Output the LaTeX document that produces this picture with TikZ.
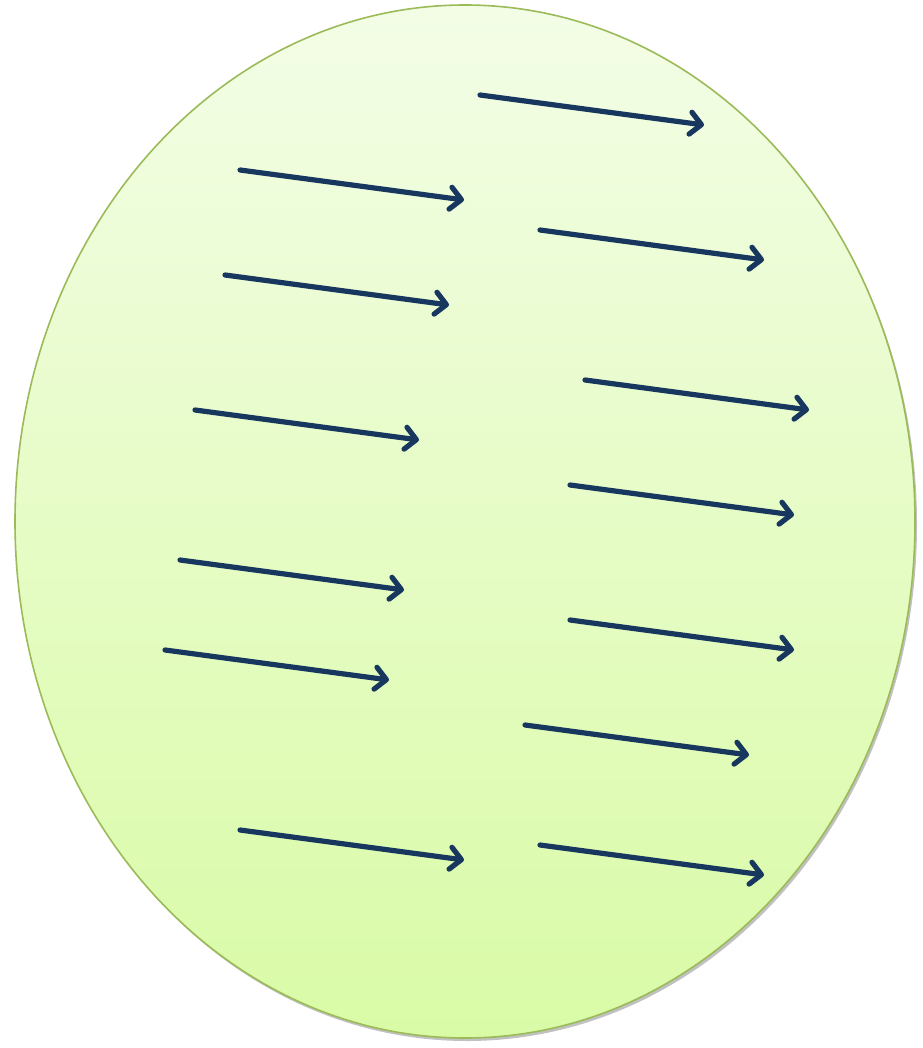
\documentclass[tikz,border=0pt]{standalone}
\usetikzlibrary{arrows.meta,shadows,shadings}
\definecolor{topg}{HTML}{F3FDE6}
\definecolor{botg}{HTML}{D9FBA6}
\definecolor{edgeg}{HTML}{9BBB59}
\definecolor{arrowc}{HTML}{17375E}
\tikzset{
  vec/.style={draw=arrowc, line width=5.2pt, line cap=round,
    -{Straight Barb[length=11pt,width=22pt,line cap=round,line join=round]}},
  blob/.style={draw=edgeg, line width=1.6pt, top color=topg, bottom color=botg,
    drop shadow={shadow xshift=2pt, shadow yshift=-3pt, opacity=0.35, fill=black!70}}
}
\begin{document}
\begin{tikzpicture}[x=1pt,y=-1pt]
\useasboundingbox (0,0) rectangle (922,1048);
\path[blob] (465,521.5) ellipse [x radius=450, y radius=516.5];
\foreach \n/\x/\y in {a/480/95, b/240/170, c/540/230, d/225/275, e/585/380, f/195/410, g/570/485, h/180/560, i/570/620, j/165/650, k/525/725, l/240/830, m/540/845}{
  \coordinate (\n s) at (\x,\y);
  \coordinate (\n e) at (\x+224,\y+30);
  \draw[vec] (\n s) -- (\n e);
}
\end{tikzpicture}
\end{document}
